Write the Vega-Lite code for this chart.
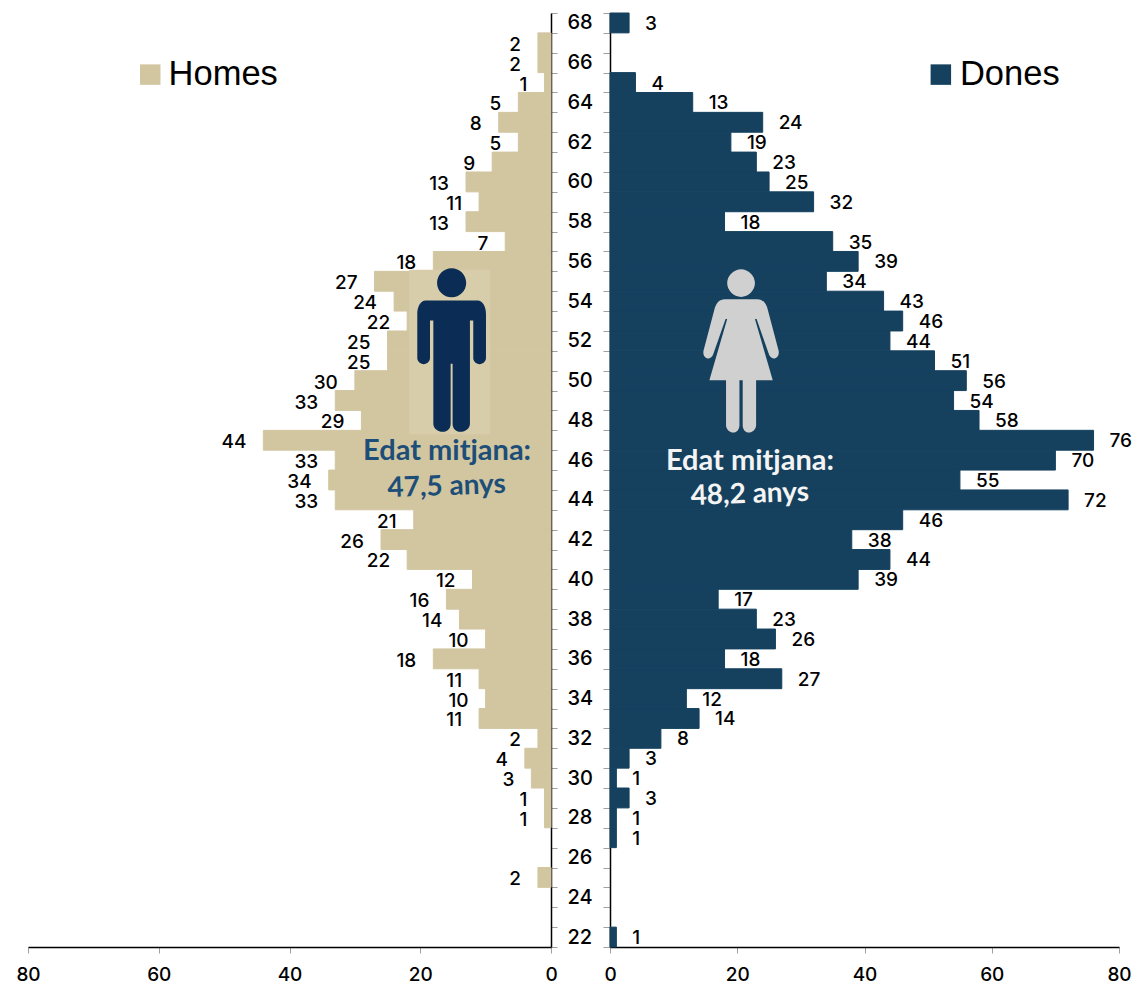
{
"$schema":"https://vega.github.io/schema/vega-lite/v6.json",
"padding":{"left":15,"top":3,"right":0,"bottom":0},
"background":"white",
"spacing":8,
"config":{"view":{"stroke":null},"concat":{"spacing":8},
"text":{"font":"Inter","fontWeight":500},
"axis":{"labelFont":"Inter","labelFontWeight":500,"labelColor":"#000","grid":false,"title":null}},
"datasets":{
"homes":[{"age":67,"n":2},{"age":66,"n":2},{"age":65,"n":1},{"age":64,"n":5},{"age":63,"n":8},{"age":62,"n":5},{"age":61,"n":9},{"age":60,"n":13},{"age":59,"n":11},{"age":58,"n":13},{"age":57,"n":7},{"age":56,"n":18},{"age":55,"n":27},{"age":54,"n":24},{"age":53,"n":22},{"age":52,"n":25},{"age":51,"n":25},{"age":50,"n":30},{"age":49,"n":33},{"age":48,"n":29},{"age":47,"n":44},{"age":46,"n":33},{"age":45,"n":34},{"age":44,"n":33},{"age":43,"n":21},{"age":42,"n":26},{"age":41,"n":22},{"age":40,"n":12},{"age":39,"n":16},{"age":38,"n":14},{"age":37,"n":10},{"age":36,"n":18},{"age":35,"n":11},{"age":34,"n":10},{"age":33,"n":11},{"age":32,"n":2},{"age":31,"n":4},{"age":30,"n":3},{"age":29,"n":1},{"age":28,"n":1},{"age":25,"n":2}],
"dones":[{"age":68,"n":3},{"age":65,"n":4},{"age":64,"n":13},{"age":63,"n":24},{"age":62,"n":19},{"age":61,"n":23},{"age":60,"n":25},{"age":59,"n":32},{"age":58,"n":18},{"age":57,"n":35},{"age":56,"n":39},{"age":55,"n":34},{"age":54,"n":43},{"age":53,"n":46},{"age":52,"n":44},{"age":51,"n":51},{"age":50,"n":56},{"age":49,"n":54},{"age":48,"n":58},{"age":47,"n":76},{"age":46,"n":70},{"age":45,"n":55},{"age":44,"n":72},{"age":43,"n":46},{"age":42,"n":38},{"age":41,"n":44},{"age":40,"n":39},{"age":39,"n":17},{"age":38,"n":23},{"age":37,"n":26},{"age":36,"n":18},{"age":35,"n":27},{"age":34,"n":12},{"age":33,"n":14},{"age":32,"n":8},{"age":31,"n":3},{"age":30,"n":1},{"age":29,"n":3},{"age":28,"n":1},{"age":27,"n":1},{"age":22,"n":1}]
},
"hconcat":[
{"width":523,"height":934,
"encoding":{
"y":{"field":"age","type":"ordinal","sort":null,"scale":{"domain":[68,67,66,65,64,63,62,61,60,59,58,57,56,55,54,53,52,51,50,49,48,47,46,45,44,43,42,41,40,39,38,37,36,35,34,33,32,31,30,29,28,27,26,25,24,23,22],"paddingInner":0,"paddingOuter":0},
"axis":{"orient":"right","tickBand":"extent","labelExpr":"datum.value % 2 == 0 ? datum.label : ''","labelFontSize":20,"labelPadding":10,"labelAngle":0,"labelAlign":"left","labelOverlap":false,"tickSize":6,"tickColor":"#a0a0a0","domainColor":"#000","domainWidth":1.5}},
"x":{"field":"n","type":"quantitative","scale":{"domain":[0,80],"reverse":true,"nice":false},
"axis":{"values":[0,20,40,60,80],"labelFontSize":19,"labelPadding":12,"tickSize":6,"tickColor":"#a0a0a0","domainColor":"#000","domainWidth":1.5,"labelFlush":false}}
},
"layer":[
{"data":{"name":"homes"},"mark":{"type":"bar","color":"#d2c6a1","stroke":"#d2c6a1","strokeWidth":1}},
{"data":{"name":"homes"},"mark":{"type":"text","align":"right","dx":-17,"dy":2,"fontSize":19,"color":"#000"},"encoding":{"text":{"field":"n","type":"quantitative"}}},
{"data":{"values":[{"age":51,"n":15.5,"icon":"patch"}]},"mark":{"type":"point","filled":true,"opacity":1,"color":"#d8cdab","size":26244,"shape":"M-0.5,-1 L0.5,-1 L0.5,1.03 L-0.5,1.03 Z"},"encoding":{"y":{"field":"age","type":"ordinal","bandPosition":0}}},
{"data":{"values":[{"age":51,"n":15.2,"icon":"home"}]},"mark":{"type":"point","filled":true,"opacity":1,"color":"#0b2d55","size":26244,"shape":"M-0.18,-0.84 C-0.18,-0.94 -0.1,-1.02 0,-1.02 C0.1,-1.02 0.18,-0.94 0.18,-0.84 C0.18,-0.74 0.1,-0.66 0,-0.66 C-0.1,-0.66 -0.18,-0.74 -0.18,-0.84 Z M-0.32,-0.62 L0.32,-0.62 C0.38,-0.62 0.424,-0.55 0.424,-0.457 L0.424,0.09 C0.424,0.13 0.39,0.165 0.345,0.165 C0.3,0.165 0.267,0.13 0.267,0.09 L0.267,-0.375 L0.226,-0.375 L0.226,0.9 C0.226,0.96 0.17,1 0.11,1 C0.05,1 0.012,0.96 0.012,0.9 L0.012,0.16 L-0.012,0.16 L-0.012,0.9 C-0.012,0.96 -0.05,1 -0.11,1 C-0.17,1 -0.226,0.96 -0.226,0.9 L-0.226,-0.375 L-0.267,-0.375 L-0.267,0.09 C-0.267,0.13 -0.3,0.165 -0.345,0.165 C-0.39,0.165 -0.424,0.13 -0.424,0.09 L-0.424,-0.457 C-0.424,-0.55 -0.38,-0.62 -0.32,-0.62 Z"},"encoding":{"y":{"field":"age","type":"ordinal","bandPosition":0}}},
{"data":{"values":[{"age":47,"n":15.9,"t":"Edat mitjana:"}]},"mark":{"type":"text","font":"Lato","fontWeight":700,"fontSize":29,"color":"#1d4e78","dy":11},"encoding":{"text":{"field":"t"}}},
{"data":{"values":[{"age":45,"n":16,"t":"47,5 anys"}]},"mark":{"type":"text","font":"Lato","fontWeight":700,"fontSize":28,"color":"#1d4e78","dy":7,"angle":-2},"encoding":{"text":{"field":"t"}}},
{"data":{"values":[{"age":65,"n":61.3,"t":"Homes"}]},"mark":{"type":"point","filled":true,"opacity":1,"color":"#d2c6a1","shape":"square","size":420},"encoding":{"y":{"field":"age","type":"ordinal","bandPosition":0.1}}},
{"data":{"values":[{"age":65,"n":58.5,"t":"Homes"}]},"mark":{"type":"text","align":"left","font":"Liberation Sans","fontWeight":400,"fontSize":34.5,"color":"#000","dy":-8},"encoding":{"text":{"field":"t"}}}
]},
{"width":509,"height":934,
"encoding":{
"y":{"field":"age","type":"ordinal","sort":null,"scale":{"domain":[68,67,66,65,64,63,62,61,60,59,58,57,56,55,54,53,52,51,50,49,48,47,46,45,44,43,42,41,40,39,38,37,36,35,34,33,32,31,30,29,28,27,26,25,24,23,22],"paddingInner":0,"paddingOuter":0},
"axis":{"orient":"left","tickBand":"extent","labels":false,"tickSize":7,"tickColor":"#a0a0a0","domainColor":"#000","domainWidth":1.5}},
"x":{"field":"n","type":"quantitative","scale":{"domain":[0,80],"nice":false},
"axis":{"values":[0,20,40,60,80],"labelFontSize":19,"labelPadding":12,"tickSize":6,"tickColor":"#a0a0a0","domainColor":"#000","domainWidth":1.5,"labelFlush":false}}
},
"layer":[
{"data":{"name":"dones"},"mark":{"type":"bar","color":"#15415f","stroke":"#15415f","strokeWidth":1}},
{"data":{"name":"dones"},"mark":{"type":"text","align":"left","dx":16,"dy":1,"fontSize":19,"color":"#000"},"encoding":{"text":{"field":"n","type":"quantitative"}}},
{"data":{"values":[{"age":51,"n":20.6,"icon":"dona"}]},"mark":{"type":"point","filled":true,"opacity":1,"color":"#d0d0d0","size":26680,"shape":"M-0.17,-0.83 C-0.17,-0.92 -0.09,-1 0,-1 C0.09,-1 0.17,-0.92 0.17,-0.83 C0.17,-0.74 0.09,-0.66 0,-0.66 C-0.09,-0.66 -0.17,-0.74 -0.17,-0.83 Z M-0.2,-0.633 L0.2,-0.633 C0.26,-0.633 0.3,-0.59 0.32,-0.53 L0.46,0 C0.47,0.05 0.44,0.094 0.4,0.094 C0.37,0.094 0.35,0.07 0.34,0.04 L0.19,-0.39 L0.17,-0.39 L0.388,0.36 L0.184,0.36 L0.184,0.91 C0.184,0.96 0.14,1 0.095,1 C0.05,1 0.02,0.96 0.02,0.91 L0.02,0.36 L-0.02,0.36 L-0.02,0.91 C-0.02,0.96 -0.05,1 -0.095,1 C-0.14,1 -0.184,0.96 -0.184,0.91 L-0.184,0.36 L-0.388,0.36 L-0.17,-0.39 L-0.19,-0.39 L-0.34,0.04 C-0.35,0.07 -0.37,0.094 -0.4,0.094 C-0.44,0.094 -0.47,0.05 -0.46,0 L-0.32,-0.53 C-0.3,-0.59 -0.26,-0.633 -0.2,-0.633 Z"},"encoding":{"y":{"field":"age","type":"ordinal","bandPosition":0}}},
{"data":{"values":[{"age":46,"n":22,"t":"Edat mitjana:"}]},"mark":{"type":"text","font":"Lato","fontWeight":700,"fontSize":29,"color":"#f4f4f4","dy":1},"encoding":{"text":{"field":"t"}}},
{"data":{"values":[{"age":44,"n":22,"t":"48,2 anys"}]},"mark":{"type":"text","font":"Lato","fontWeight":700,"fontSize":28,"color":"#f4f4f4","dy":-5,"angle":-2},"encoding":{"text":{"field":"t"}}},
{"data":{"values":[{"age":65,"n":52,"t":"Dones"}]},"mark":{"type":"point","filled":true,"opacity":1,"color":"#15415f","shape":"square","size":420},"encoding":{"y":{"field":"age","type":"ordinal","bandPosition":0.1}}},
{"data":{"values":[{"age":65,"n":55,"t":"Dones"}]},"mark":{"type":"text","align":"left","font":"Liberation Sans","fontWeight":400,"fontSize":34.5,"color":"#000","dy":-8},"encoding":{"text":{"field":"t"}}}
]}
]}
